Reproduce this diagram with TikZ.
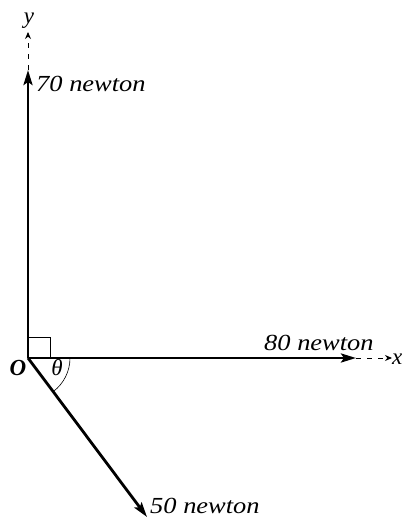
\documentclass[tikz,border=0pt]{standalone}
\usepackage{fontspec}
\setmainfont{Liberation Serif}
\usetikzlibrary{arrows.meta}
\begin{document}
\begin{tikzpicture}[x=1pt,y=-1pt,
  force/.style={line width=2.8pt,-{Stealth[length=15pt,width=9pt,inset=3pt]}},
  axis/.style={line width=0.9pt,dash pattern=on 5pt off 6pt,-{Stealth[length=7pt,width=6pt]}},
  lbl/.style={font=\fontsize{23}{25}\selectfont\itshape,inner sep=0pt}]
\useasboundingbox (0,0) rectangle (406,519);
\coordinate (O) at (28,358);
\coordinate (Ytip) at (28,70);
\coordinate (Yend) at (28,32);
\coordinate (Xtip) at (356,358);
\coordinate (Xend) at (392,358);
\coordinate (Dtip) at (147,517);
\draw[axis] (Ytip) -- (Yend);
\draw[axis] (Xtip) -- (Xend);
\draw[force] (O) -- (Ytip);
\draw[force] (O) -- (Xtip);
\draw[force] (O) -- (Dtip);
\draw[line width=0.8pt] (28,337) -- (50,337) -- (50,358);
\draw[line width=0.6pt] ([shift={(0:42)}]O) arc[start angle=0,end angle=53,radius=42];
\node[lbl,anchor=base west] (f70) at (36,92) {\scalebox{1.15}[1]{70 newton}};
\node[lbl,anchor=base west] (f80) at (264,350) {\scalebox{1.15}[1]{80 newton}};
\node[lbl,anchor=base west] (f50) at (150,513) {\scalebox{1.15}[1]{50 newton}};
\node[lbl,anchor=base west] (xl) at (392,364) {x};
\node[lbl,anchor=base] (yl) at (29,24) {y};
\node[lbl,font=\fontsize{23}{25}\selectfont\bfseries\itshape,anchor=base] (ol) at (18,375) {O};
\node[lbl,anchor=base] (th) at (57,375) {θ};
\end{tikzpicture}
\end{document}
